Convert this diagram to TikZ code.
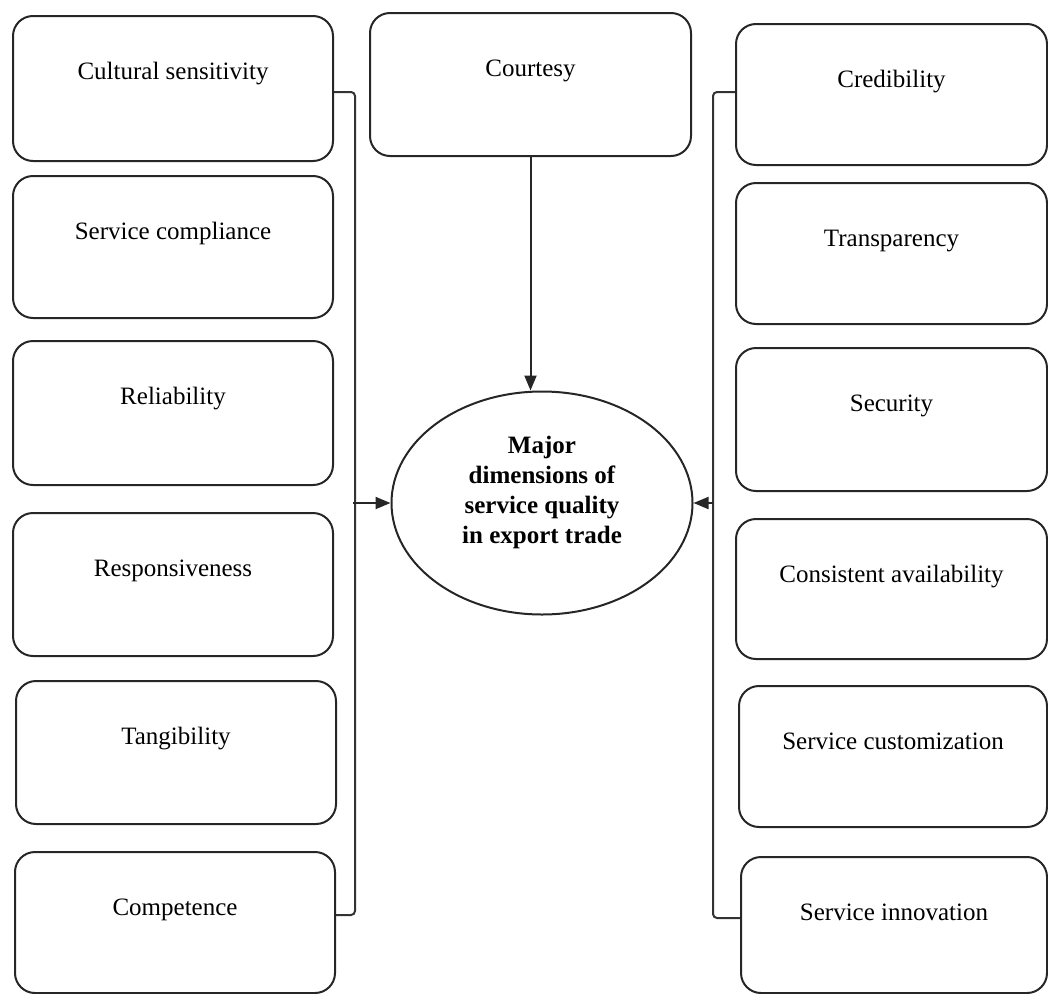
\documentclass[tikz,border=0pt]{standalone}
\usepackage{fontspec}
\setmainfont{Liberation Serif}
\usetikzlibrary{shapes.geometric,arrows.meta}

\begin{document}
\begin{tikzpicture}[x=1pt,y=1pt,
  dimbox/.style={draw=black!85, line width=2pt, rounded corners=20pt,
    inner sep=0pt, anchor=north west, text height=63pt,
    font=\fontsize{25}{30}\selectfont},
  hub/.style={draw=black!85, line width=2pt, ellipse, inner sep=0pt,
    font=\fontsize{25}{30}\selectfont\bfseries},
  link/.style={draw=black!80, line width=2pt, rounded corners=4pt},
  arr/.style={draw=black!85, line width=2pt, -{Triangle[length=15pt,width=12pt]}}
]
\useasboundingbox (0,0) rectangle (1048,-993);

% left column
\node[dimbox, minimum width=320pt, text depth=82pt] (cs)   at (12,-15)  {Cultural sensitivity};
\node[dimbox, minimum width=320pt, text depth=79pt] (sc)   at (12,-175) {Service compliance};
\node[dimbox, minimum width=320pt, text depth=81pt] (rel)  at (12,-340) {Reliability};
\node[dimbox, minimum width=320pt, text depth=80pt] (resp) at (12,-512) {Responsiveness};
\node[dimbox, minimum width=320pt, text depth=80pt] (tan)  at (15,-680) {Tangibility};
\node[dimbox, minimum width=320pt, text depth=78pt] (comp) at (14,-851) {Competence};

% top box
\node[dimbox, minimum width=321pt, text depth=80pt] (court) at (369,-12) {Courtesy};

% right column
\node[dimbox, minimum width=311pt, text depth=78pt] (cred)  at (735,-23)  {Credibility};
\node[dimbox, minimum width=311pt, text depth=78pt] (trans) at (735,-182) {Transparency};
\node[dimbox, minimum width=311pt, text depth=80pt] (sec)   at (735,-347) {Security};
\node[dimbox, minimum width=311pt, text depth=77pt] (cons)  at (735,-518) {Consistent availability};
\node[dimbox, minimum width=308pt, text depth=78pt] (cust)  at (738,-685) {Service customization};
\node[dimbox, minimum width=306pt, text depth=73pt] (innov) at (740,-856) {Service innovation};

% central ellipse
\node[hub, minimum width=301pt, minimum height=223pt] (maj) at (542,-503)
  {\raisebox{4pt}[0pt][0pt]{\begin{tabular}{@{}c@{}}Major\\dimensions of\\service quality\\in export trade\end{tabular}}};

% bracket junctions
\coordinate (jl) at (353,-503);
\coordinate (jr) at (713,-503);

% left bracket
\draw[link] ([yshift=-3.5pt]cs.east) -- ++(21,0) |- ([yshift=7.5pt]comp.east);
\draw[arr] (jl) -- (maj.west);

% right bracket
\draw[link] ([yshift=2.5pt]cred.west) -- ++(-22,0) |- ([yshift=7pt]innov.west);
\draw[arr] (jr) -- (maj.east);

% courtesy link
\draw[arr] (court.south) -- (court.south |- maj.north);
\end{tikzpicture}
\end{document}
